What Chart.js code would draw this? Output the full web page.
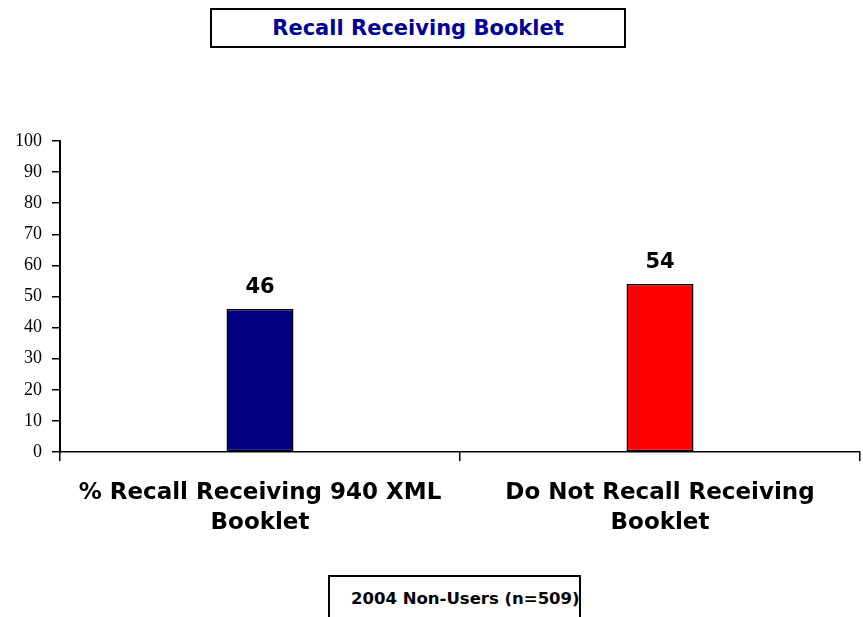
<!DOCTYPE html>
<html>
<head>
<meta charset="utf-8">
<script src="https://cdn.jsdelivr.net/npm/chart.js@4.4.1/dist/chart.umd.min.js"></script>
<style>
    body { margin: 0; background: #fff; }
    #wrap { position: relative; width: 863px; height: 617px; overflow: hidden; }
    .box {
        position: absolute;
        box-sizing: border-box;
        border: 2px solid #000;
        background: #fff;
        text-align: center;
        font-weight: bold;
        white-space: nowrap;
        font-family: "DejaVu Sans", Verdana, sans-serif;
    }
    #title {
        left: 210px; top: 8px; width: 416px; height: 40px;
        line-height: 37px;
        font-size: 21px;
        color: #000099;
    }
    #footer {
        left: 328px; top: 575px; width: 253px; height: 60px;
        padding-top: 12px;
        padding-left: 21px;
        text-align: left;
        font-size: 16.5px;
        color: #000;
    }
</style>
</head>
<body>
<div id="wrap">
    <canvas id="chart" width="863" height="617"></canvas>
    <div class="box" id="title">Recall Receiving Booklet</div>
    <div class="box" id="footer">2004 Non-Users (n=509)</div>
</div>
<script>
// 数据
const categories = [
    ['% Recall Receiving 940 XML', 'Booklet'],
    ['Do Not Recall Receiving', 'Booklet']
];
const values = [46, 54];
const barColors = ['#000080', '#FF0000'];
const yTicks = [0, 10, 20, 30, 40, 50, 60, 70, 80, 90, 100];

// 柱顶数值标签
const valueLabels = {
    id: 'valueLabels',
    afterDatasetsDraw(chart) {
        const ctx = chart.ctx;
        const meta = chart.getDatasetMeta(0);
        ctx.save();
        ctx.font = 'bold 21px "DejaVu Sans", Verdana, sans-serif';
        ctx.fillStyle = '#000';
        ctx.textAlign = 'center';
        ctx.textBaseline = 'alphabetic';
        meta.data.forEach((bar, i) => {
            ctx.fillText(String(values[i]), bar.x, bar.y - 16);
        });
        ctx.restore();
    }
};

const ctx = document.getElementById('chart').getContext('2d');
new Chart(ctx, {
    type: 'bar',
    data: {
        labels: categories,
        datasets: [{
            data: values,
            backgroundColor: barColors,
            borderColor: '#000',
            borderWidth: 1.5,
            borderSkipped: false,
            barPercentage: 1,
            categoryPercentage: 0.1675
        }]
    },
    options: {
        responsive: false,
        animation: false,
        layout: {
            padding: { top: 141, right: 3, left: 0, bottom: 0 }
        },
        plugins: {
            legend: { display: false },
            tooltip: { enabled: false }
        },
        scales: {
            y: {
                min: 0,
                max: 100,
                afterFit(scale) { scale.width = 60; },
                afterBuildTicks(scale) {
                    scale.ticks = yTicks.map(v => ({ value: v }));
                },
                grid: {
                    drawOnChartArea: false,
                    color: '#000',
                    lineWidth: 1.5,
                    tickLength: 8
                },
                border: { display: true, color: '#000', width: 2 },
                ticks: {
                    padding: 10,
                    color: '#000',
                    font: { family: '"Liberation Serif", "DejaVu Serif", serif', size: 18 }
                }
            },
            x: {
                afterFit(scale) { scale.height = 165; },
                grid: {
                    drawOnChartArea: false,
                    offset: true,
                    color: '#000',
                    lineWidth: 1.5,
                    tickLength: 9
                },
                border: { display: true, color: '#000', width: 1.5 },
                ticks: {
                    padding: 17,
                    color: '#000',
                    maxRotation: 0,
                    font: { family: '"DejaVu Sans", Verdana, sans-serif', size: 23, weight: 'bold', lineHeight: 1.3 }
                }
            }
        }
    },
    plugins: [valueLabels]
});
</script>
</body>
</html>
